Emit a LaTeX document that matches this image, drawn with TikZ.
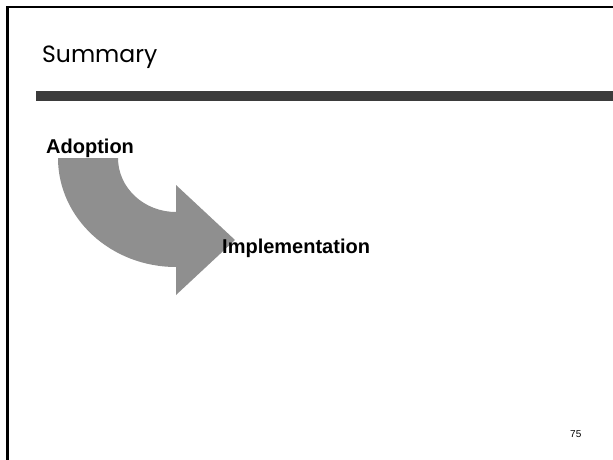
\documentclass[tikz,border=0pt]{standalone}
\usepackage{fontspec}
\setmainfont{Liberation Sans}
\newfontfamily\titlefont{Poppins}
\definecolor{bargray}{HTML}{3B3B3B}
\definecolor{arrowgray}{HTML}{8F8F8F}
\begin{document}
\begin{tikzpicture}[x=1pt,y=-1pt,
  label/.style={inner sep=0pt,anchor=base west,font=\fontsize{20}{20}\selectfont\bfseries},
  pagenum/.style={inner sep=0pt,anchor=base west,font=\fontsize{10}{10}\selectfont}]
\useasboundingbox (0,0) rectangle (613,460);
% slide frame (runs past the right and bottom edges)
\draw[line width=2.6pt] (7.5,470) -- (7.5,7) -- (620,7);
% title and rule
\node[inner sep=0pt,anchor=base west,font=\titlefont\fontsize{23.5}{23.5}\selectfont] (title) at (42,63) {Summary};
\fill[bargray] (36,91) rectangle (613,101);
% curved block arrow
\fill[arrowgray] (58,158) arc[start angle=180,end angle=90,x radius=118,y radius=109]
  -- (176,295) -- (235,240) -- (176,185) -- (176,212)
  arc[start angle=90,end angle=180,x radius=58,y radius=54] -- cycle;
% labels
\node[label] (adoption) at (46,153) {Adoption};
\node[label] (implementation) at (222,253) {Implementation};
\node[pagenum] (page) at (570,437) {75};
\end{tikzpicture}
\end{document}
